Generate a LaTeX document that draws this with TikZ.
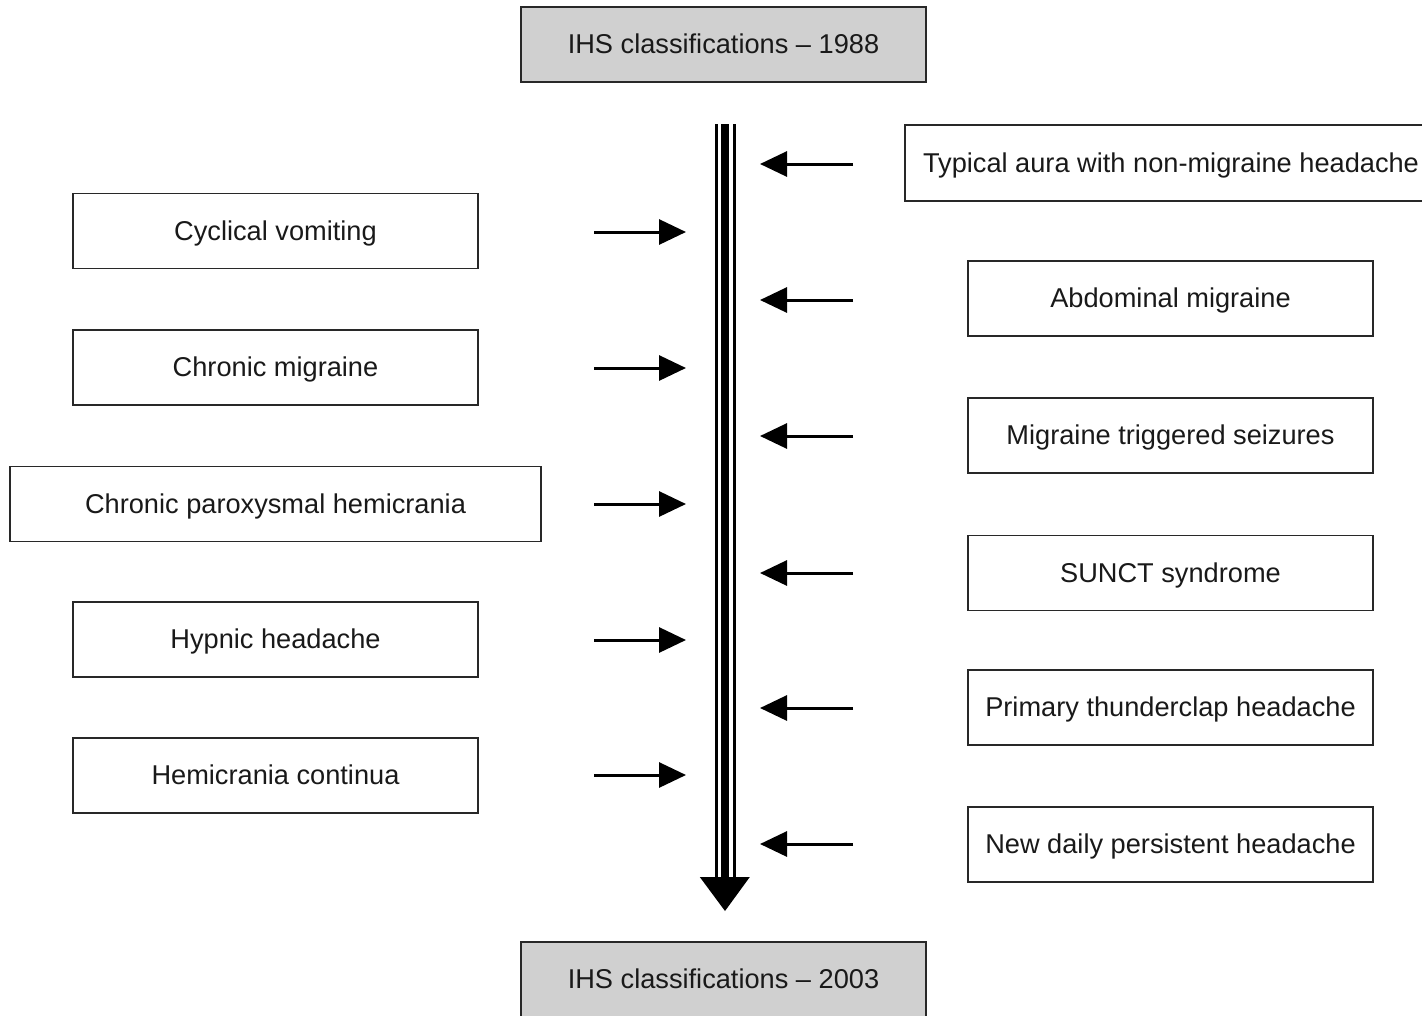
\documentclass[tikz,border=0pt]{standalone}
\usepackage{fontspec}
\setmainfont{Liberation Sans}
\usetikzlibrary{arrows.meta,calc}
\definecolor{boxgray}{RGB}{208,208,208}
\definecolor{boxline}{RGB}{40,40,40}
\tikzset{
  catbox/.style={draw=boxline, line width=1.8pt, minimum height=75pt, inner sep=0pt, text height=18.5pt, text depth=0pt, font=\fontsize{27.2pt}{32pt}\selectfont, text=black!90},
  stdbox/.style={catbox, minimum width=405pt},
  ihsbox/.style={catbox, fill=boxgray, minimum width=405pt},
  feed/.style={line width=3pt, -{Triangle[length=27pt,width=25pt]}},
}
\begin{document}
\begin{tikzpicture}[x=1pt,y=-1pt]
\useasboundingbox (0,0) rectangle (1422,1015);
\clip (0,0) rectangle (1422,1015);
% central boxes
\node[ihsbox] (top) at (723.5,44.5) {IHS classifications -- 1988};
\node[ihsbox] (bot) at (723.5,979.5) {IHS classifications -- 2003};
% left boxes
\node[stdbox] (cv) at (275.5,231) {Cyclical vomiting};
\node[stdbox] (cm) at (275.5,367.5) {Chronic migraine};
\node[catbox, minimum width=531pt] (cph) at (275.5,504) {Chronic paroxysmal hemicrania};
\node[stdbox] (hh) at (275.5,639.5) {Hypnic headache};
\node[stdbox] (hc) at (275.5,775.5) {Hemicrania continua};
% right boxes
\node[catbox, minimum width=532pt, minimum height=76pt] (ta) at (1171,163) {Typical aura with non-migraine headache};
\node[stdbox] (am) at (1170.5,298.5) {Abdominal migraine};
\node[stdbox] (mts) at (1170.5,435.5) {Migraine triggered seizures};
\node[stdbox] (sunct) at (1170.5,573) {SUNCT syndrome};
\node[stdbox] (pth) at (1170.5,707.5) {Primary thunderclap headache};
\node[stdbox] (ndph) at (1170.5,844.5) {New daily persistent headache};
% central timeline arrow
\coordinate (shaftTop) at (724.8,124);
\coordinate (shaftEnd) at (724.8,878);
\coordinate (tip) at (725,911);
\draw[line width=2.5pt] ($(shaftTop)+(-8.5,0)$) -- ($(shaftEnd)+(-8.5,0)$);
\draw[line width=2.5pt] ($(shaftTop)+(9.5,0)$) -- ($(shaftEnd)+(9.5,0)$);
\draw[line width=7.7pt] (shaftTop) -- (shaftEnd);
\fill ($(shaftEnd)+(-25,-1)$) -- ($(shaftEnd)+(25,-1)$) -- (tip) -- cycle;
% left feed arrows
\foreach \n/\yy in {cv/232, cm/368, cph/504, hh/640, hc/775}{
  \coordinate (\n s) at (594,\yy);
  \coordinate (\n e) at (686,\yy);
  \draw[feed] (\n s) -- (\n e);
}
% right feed arrows
\foreach \n/\yy in {ta/164, am/300, mts/436, sunct/573, pth/708, ndph/844}{
  \coordinate (\n s) at (853,\yy);
  \coordinate (\n e) at (760,\yy);
  \draw[feed] (\n s) -- (\n e);
}
\end{tikzpicture}
\end{document}
